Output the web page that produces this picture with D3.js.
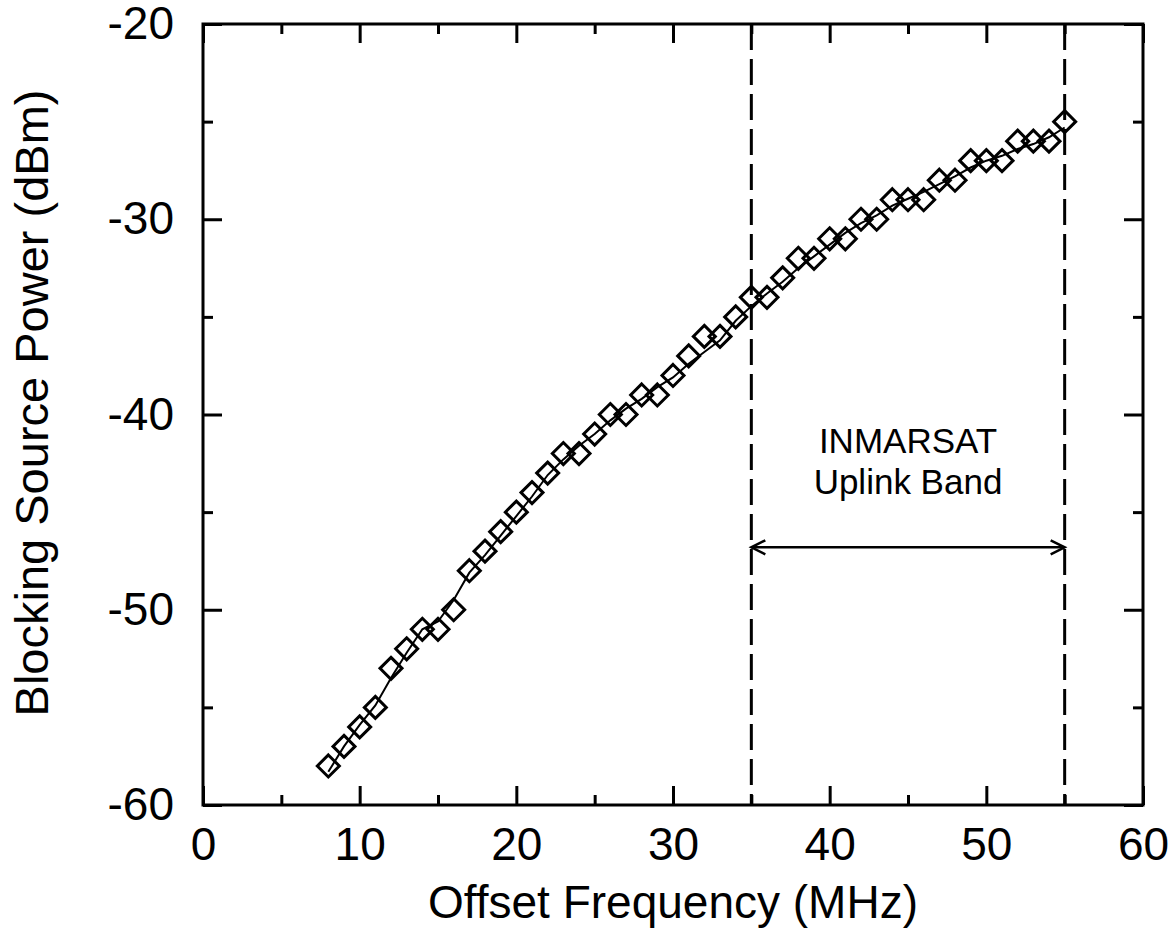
<!DOCTYPE html>
<html>
<head>
<meta charset="utf-8">
<script src="https://cdn.jsdelivr.net/npm/d3@7"></script>
<style>
  html, body { margin: 0; padding: 0; background: #fff; }
  svg { display: block; font-family: "Liberation Sans", Arial, sans-serif; }
</style>
</head>
<body>
<svg id="chart" width="1173" height="930"></svg>
<script>
// Offset frequency (MHz) of each measurement
const offsetMHz = [8, 9, 10, 11, 12, 13, 14, 15, 16, 17, 18, 19, 20, 21, 22, 23, 24, 25, 26, 27,
  28, 29, 30, 31, 32, 33, 34, 35, 36, 37, 38, 39, 40, 41, 42, 43, 44, 45, 46, 47,
  48, 49, 50, 51, 52, 53, 54, 55];
// Measured blocking source power (dBm)
const measuredDbm = [-58, -57, -56, -55, -53, -52, -51, -51, -50, -48, -47, -46, -45, -44, -43, -42, -42, -41, -40, -40,
  -39, -39, -38, -37, -36, -36, -35, -34, -34, -33, -32, -32, -31, -31, -30, -30, -29, -29, -29, -28,
  -28, -27, -27, -27, -26, -26, -26, -25];
// Smoothed trend through the measurements (dBm)
const trendDbm = [-58.3, -57.0, -55.9, -54.9, -53.5, -52.2, -51.0, -50.6, -49.5, -48.1, -47.2, -46.2, -45.2, -44.2, -43.1, -42.3, -41.6, -41.0, -40.3, -39.7,
  -39.2, -38.6, -38.1, -37.4, -36.8, -36.2, -35.2, -34.45, -33.8, -33.2, -32.5, -31.9, -31.3, -30.7, -30.2, -29.8, -29.3, -28.95, -28.6, -28.2,
  -27.8, -27.35, -27.0, -26.75, -26.4, -26.15, -25.8, -25.3];

// Axis ticks
const xMajorTicks = [0, 10, 20, 30, 40, 50, 60];
const xMinorTicks = [5, 15, 25, 35, 45, 55];
const yMajorTicks = [-60, -50, -40, -30, -20];
const yMinorTicks = [-55, -45, -35, -25];

// INMARSAT uplink band edges (MHz) and the level of its span arrow (dBm)
const bandEdges = [35, 55];
const bandArrowDbm = -46.8;
const bandLabel = ["INMARSAT", "Uplink Band"];

const xTitle = "Offset Frequency (MHz)";
const yTitle = "Blocking Source Power (dBm)";

const svg = d3.select("#chart");
const plotLeft = 203, plotRight = 1143, plotTop = 24, plotBottom = 805;

const x = d3.scaleLinear().domain([0, 60]).range([plotLeft, plotRight]);
const y = d3.scaleLinear().domain([-60, -20]).range([plotBottom, plotTop]);

const majorLen = 19, minorLen = 10;
const axisFont = "46px";
const plainNumber = d => String(d);

function styleAxis(g) {
  g.select(".domain").remove();
  g.selectAll(".tick line").attr("stroke", "#000").attr("stroke-width", 3);
  g.selectAll(".tick text").attr("fill", "#000").style("font-size", axisFont)
    .style("font-family", '"Liberation Sans", Arial, sans-serif');
}

// Bottom axis (labelled)
svg.append("g").attr("transform", `translate(0,${plotBottom})`)
  .call(d3.axisBottom(x).tickValues(xMajorTicks).tickSize(-majorLen).tickPadding(22).tickFormat(plainNumber))
  .call(styleAxis);
svg.append("g").attr("transform", `translate(0,${plotBottom})`)
  .call(d3.axisBottom(x).tickValues(xMinorTicks).tickSize(-minorLen).tickFormat(""))
  .call(styleAxis);
// Top axis (ticks only)
svg.append("g").attr("transform", `translate(0,${plotTop})`)
  .call(d3.axisTop(x).tickValues(xMajorTicks).tickSize(-majorLen).tickFormat(""))
  .call(styleAxis);
svg.append("g").attr("transform", `translate(0,${plotTop})`)
  .call(d3.axisTop(x).tickValues(xMinorTicks).tickSize(-minorLen).tickFormat(""))
  .call(styleAxis);
// Left axis (labelled)
svg.append("g").attr("transform", `translate(${plotLeft},0)`)
  .call(d3.axisLeft(y).tickValues(yMajorTicks).tickSize(-majorLen).tickPadding(29).tickFormat(plainNumber))
  .call(styleAxis);
svg.append("g").attr("transform", `translate(${plotLeft},0)`)
  .call(d3.axisLeft(y).tickValues(yMinorTicks).tickSize(-minorLen).tickFormat(""))
  .call(styleAxis);
// Right axis (ticks only)
svg.append("g").attr("transform", `translate(${plotRight},0)`)
  .call(d3.axisRight(y).tickValues(yMajorTicks).tickSize(-majorLen).tickFormat(""))
  .call(styleAxis);
svg.append("g").attr("transform", `translate(${plotRight},0)`)
  .call(d3.axisRight(y).tickValues(yMinorTicks).tickSize(-minorLen).tickFormat(""))
  .call(styleAxis);

// Plot frame
svg.append("rect")
  .attr("x", plotLeft).attr("y", plotTop)
  .attr("width", plotRight - plotLeft).attr("height", plotBottom - plotTop)
  .attr("fill", "none").attr("stroke", "#000").attr("stroke-width", 3);

// Band edges
svg.selectAll("line.band").data(bandEdges).enter().append("line")
  .attr("class", "band")
  .attr("x1", d => x(d)).attr("x2", d => x(d))
  .attr("y1", y(-20)).attr("y2", y(-60))
  .attr("stroke", "#000").attr("stroke-width", 3)
  .attr("stroke-dasharray", "26,9");

// Double-headed span arrow
const ay = y(bandArrowDbm), ax1 = x(bandEdges[0]), ax2 = x(bandEdges[1]);
svg.append("line").attr("x1", ax1).attr("x2", ax2).attr("y1", ay).attr("y2", ay)
  .attr("stroke", "#000").attr("stroke-width", 2.5);
svg.append("path")
  .attr("d", `M${ax1 + 14},${ay - 7}L${ax1},${ay}L${ax1 + 14},${ay + 7}` +
             `M${ax2 - 14},${ay - 7}L${ax2},${ay}L${ax2 - 14},${ay + 7}`)
  .attr("fill", "none").attr("stroke", "#000").attr("stroke-width", 2.5);

// Band label
const bandMid = (ax1 + ax2) / 2;
svg.append("text").attr("x", bandMid).attr("y", 453).attr("text-anchor", "middle")
  .style("font-size", "35px").text(bandLabel[0]);
svg.append("text").attr("x", bandMid).attr("y", 494).attr("text-anchor", "middle")
  .style("font-size", "35px").text(bandLabel[1]);

// Trend line
const trend = offsetMHz.map((f, i) => [f, trendDbm[i]]);
svg.append("path").datum(trend)
  .attr("d", d3.line().x(d => x(d[0])).y(d => y(d[1])))
  .attr("fill", "none").attr("stroke", "#000").attr("stroke-width", 2);

// Measured points (open diamonds)
const r = 11;
svg.selectAll("path.pt").data(offsetMHz.map((f, i) => [f, measuredDbm[i]])).enter().append("path")
  .attr("class", "pt")
  .attr("transform", d => `translate(${x(d[0])},${y(d[1])})`)
  .attr("d", `M0,${-r}L${r},0L0,${r}L${-r},0Z`)
  .attr("fill", "none").attr("stroke", "#000").attr("stroke-width", 3);

// Axis titles
svg.append("text").attr("x", (plotLeft + plotRight) / 2).attr("y", 918)
  .attr("text-anchor", "middle").style("font-size", "46px").text(xTitle);
svg.append("text")
  .attr("transform", `translate(48,403) rotate(-90)`)
  .attr("text-anchor", "middle").style("font-size", "47px").text(yTitle);
</script>
</body>
</html>
